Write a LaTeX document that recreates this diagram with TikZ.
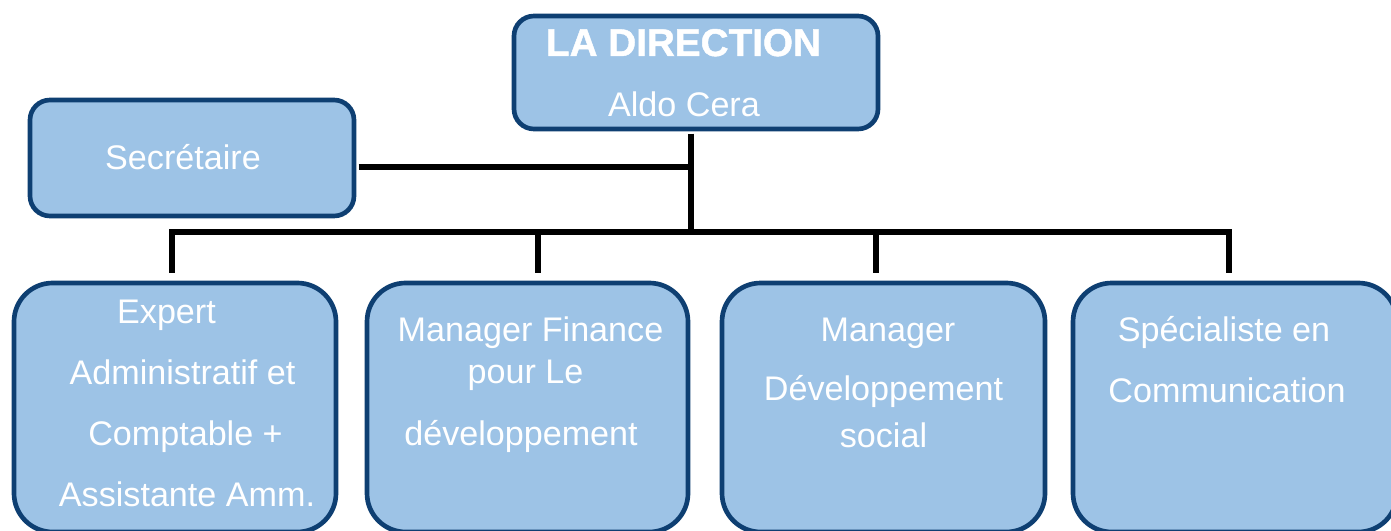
\documentclass[tikz,border=0pt]{standalone}
\usepackage{fontspec}
\setmainfont{Liberation Sans}
\font\headfont="Liberation Sans Bold:embolden=1.2" at 29pt
\definecolor{boxfill}{HTML}{9DC3E6}
\definecolor{boxedge}{HTML}{0E3F72}
\tikzset{
  orgbox/.style={draw=boxedge, fill=boxfill, line width=3.5pt, rectangle, inner sep=0pt},
  conn/.style={line width=4.1pt, black, line join=miter},
  lbl/.style={text=white, font=\fontsize{25.6}{30}\selectfont, anchor=base, inner sep=0pt},
  headlbl/.style={text=white, font=\headfont, anchor=base, inner sep=0pt}
}
\begin{document}
\begin{tikzpicture}[x=0.75pt,y=-0.75pt]
\useasboundingbox (0,0) rectangle (1391,531);
\clip (0,0) rectangle (1391,531);
% boxes
\node[orgbox, rounded corners=15pt, minimum width=273pt, minimum height=84.75pt] (dir) at (696,72.5) {};
\node[orgbox, rounded corners=15pt, minimum width=243pt, minimum height=87pt] (sec) at (192,158) {};
\node[orgbox, rounded corners=29pt, minimum width=241.5pt, minimum height=186.75pt] (box1) at (175,407.5) {};
\node[orgbox, rounded corners=29pt, minimum width=240.75pt, minimum height=186.75pt] (box2) at (527.5,407.5) {};
\node[orgbox, rounded corners=29pt, minimum width=242.25pt, minimum height=186.75pt] (box3) at (883.5,407.5) {};
\node[orgbox, rounded corners=29pt, minimum width=243pt, minimum height=186.75pt] (box4) at (1235,407.5) {};
% junction coordinates
\coordinate (trunkbot) at (691,232);
\coordinate (secjoin) at (691,167);
\coordinate (d1) at (172,232);
\coordinate (d2) at (538,232);
\coordinate (d3) at (876,232);
\coordinate (d4) at (1229,232);
% connectors
\draw[conn, shorten <=1.75pt] (dir.south -| trunkbot) -- (trunkbot);
\draw[conn, shorten <=1.75pt] (sec.east |- secjoin) -- (secjoin);
\draw[conn, shorten <=6pt, shorten >=6pt] (d1 |- box1.north) -- (d1) -- (d4) -- (d4 |- box4.north);
\draw[conn, shorten >=6pt] (d2) -- (d2 |- box2.north);
\draw[conn, shorten >=6pt] (d3) -- (d3 |- box3.north);
% texts
\node[headlbl] (dirt1) at (683.5,56) {LA DIRECTION};
\node[lbl] (dirt2) at (684,117) {Aldo Cera};
\node[lbl] (sect) at (183,170) {Secrétaire};
\node[lbl] (b1a) at (166.5,323) {Expert};
\node[lbl] (b1b) at (182.5,384) {Administratif et};
\node[lbl] (b1c) at (185.5,445) {Comptable +};
\node[lbl] (b1d) at (187,506) {Assistante Amm.};
\node[lbl] (b2a) at (530.5,341) {Manager Finance};
\node[lbl] (b2b) at (525.5,383) {pour Le};
\node[lbl] (b2c) at (521,445) {développement};
\node[lbl] (b3a) at (888,341) {Manager};
\node[lbl] (b3b) at (883.5,400) {Développement};
\node[lbl] (b3c) at (883.5,447) {social};
\node[lbl] (b4a) at (1224,341) {Spécialiste en};
\node[lbl] (b4b) at (1227,402) {Communication};
\end{tikzpicture}
\end{document}
